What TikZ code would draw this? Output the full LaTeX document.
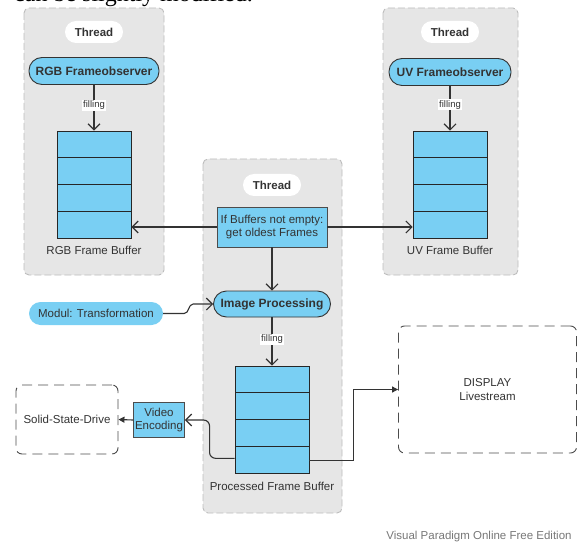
\documentclass[tikz,border=0pt]{standalone}
\usepackage{fontspec}
\setmainfont{Liberation Sans}
\newfontfamily\bodyserif{Liberation Serif}
\usetikzlibrary{arrows.meta,calc}
\definecolor{actblue}{HTML}{79CFF3}
\definecolor{lanefill}{HTML}{E6E6E6}
\definecolor{laneline}{HTML}{BDBDBD}
\definecolor{ink}{HTML}{333333}
\definecolor{mark}{HTML}{777777}

\begin{document}
\begin{tikzpicture}[x=1pt,y=-1pt,
  every node/.style={inner sep=0pt, text=ink},
  lane/.style={fill=lanefill, draw=laneline, line width=0.9pt,
    dash pattern=on 7pt off 3pt, rounded corners=5pt},
  pill/.style={fill=white, rounded corners=11pt, minimum width=58pt,
    minimum height=22pt, font=\fontsize{11.5}{13}\selectfont\bfseries},
  action/.style={fill=actblue, draw=ink, line width=0.9pt, rounded corners=13pt,
    minimum height=27pt, font=\fontsize{12}{14}\selectfont\bfseries},
  bufbox/.style={fill=actblue, draw=black!85, line width=0.9pt,
    minimum width=74pt, minimum height=107pt,
    path picture={\foreach \k in {1,2,3}
      \draw[black!85, line width=0.9pt]
        ($(path picture bounding box.north west)!\k/4!(path picture bounding box.south west)$) --
        ($(path picture bounding box.north east)!\k/4!(path picture bounding box.south east)$);}},
  buflabel/.style={font=\fontsize{11.5}{13}\selectfont},
  fillnote/.style={fill=white, inner sep=1pt, font=\fontsize{9.5}{10.5}\selectfont},
  plainbox/.style={fill=actblue, draw=black!70, line width=0.9pt,
    align=center, font=\fontsize{11.5}{13.5}\selectfont},
  extbox/.style={draw=black!70, line width=0.9pt, dash pattern=on 10pt off 6pt,
    rounded corners=6pt, align=center, font=\fontsize{11.5}{13.5}\selectfont},
  flow/.style={draw=ink, line width=1.1pt, -{Straight Barb[length=6pt,width=12pt]}},
  push/.style={draw=ink, line width=1.1pt, -{Triangle[length=6pt,width=6pt]}}
]
\useasboundingbox (0,0) rectangle (577,545);
\clip (0,0) rectangle (577,545);

% line of body text running above the figure
\node[anchor=base west, font=\bodyserif\fontsize{24}{26}\selectfont, text=black]
  (caption) at (14,2) {can be slightly modified.};

% thread lanes
\draw[lane] (24,8) rectangle (164,275);
\draw[lane] (383,8) rectangle (518,275);
\draw[lane] (203,159) rectangle (342,513);

\node[pill] (thrgb) at (94,32) {Thread};
\node[pill] (thuv) at (450,32) {Thread};
\node[pill] (thmid) at (272,185) {Thread};

% capture threads
\node[action, minimum width=130pt] (rgbobs) at (94,71) {RGB Frameobserver};
\node[action, minimum width=122pt] (uvobs) at (450,72) {UV Frameobserver};
\node[bufbox] (rgbbuf) at (94,184.5) {};
\node[bufbox] (uvbuf) at (450,184.5) {};
\node[buflabel] (rgblbl) at (94,250) {RGB Frame Buffer};
\node[buflabel] (uvlbl) at (450,250) {UV Frame Buffer};

\draw[flow] (rgbobs) -- node[fillnote, pos=0.45] (fillrgb) {filling} (rgbbuf);
\draw[flow] (uvobs) -- node[fillnote, pos=0.42] (filluv) {filling} (uvbuf);

% processing thread
\node[plainbox, minimum width=110pt, minimum height=40pt] (getbox) at (272,227)
  {If Buffers not empty:\\get oldest Frames};
\node[action, minimum width=117pt, minimum height=26pt] (improc) at (272,304) {Image Processing};
\node[bufbox] (procbuf) at (272,419.5) {};
\node[buflabel] (proclbl) at (272,486) {Processed Frame Buffer};

\draw[flow] (getbox.west) -- (getbox.west -| rgbbuf.east);
\draw[flow] (getbox.east) -- (getbox.east -| uvbuf.west);
\draw[flow] (getbox) -- (improc);
\draw[flow] (improc) -- node[fillnote, pos=0.45] (fillproc) {filling} (procbuf);

% transformation module
\node[fill=actblue, rounded corners=11.5pt, minimum width=134pt, minimum height=23pt,
  font=\fontsize{11.5}{13}\selectfont] (modul) at (96,313.5) {Modul: Transformation};
\draw[flow] (modul.east) -- ++(21,0) .. controls +(5,0) and +(-5,0) .. ++(9,-9.5) -- (improc.west);

% outputs
\node[plainbox, minimum width=51pt, minimum height=35pt] (venc) at (159,420) {Video\\Encoding};
\node[extbox, minimum width=102pt, minimum height=69pt] (ssd) at (67,419.5) {Solid-State-Drive};
\node[extbox, minimum width=178pt, minimum height=127pt] (display) at (487.5,389.5) {DISPLAY\\Livestream};

\coordinate (procout) at ($(procbuf.south west)!0.14!(procbuf.north west)$);
\coordinate (procright) at ($(procbuf.south east)!0.12!(procbuf.north east)$);
\draw[flow, rounded corners=6pt] (procout) -- ++(-25,0) |- (venc.east);
\draw[push] (venc.west) -- (ssd.east);
\draw[push] (procright) -- ++(44,0) |- (display.west);

\node[font=\fontsize{11.5}{13}\selectfont, text=mark] (wm) at (479,537)
  {Visual Paradigm Online Free Edition};
\end{tikzpicture}
\end{document}
